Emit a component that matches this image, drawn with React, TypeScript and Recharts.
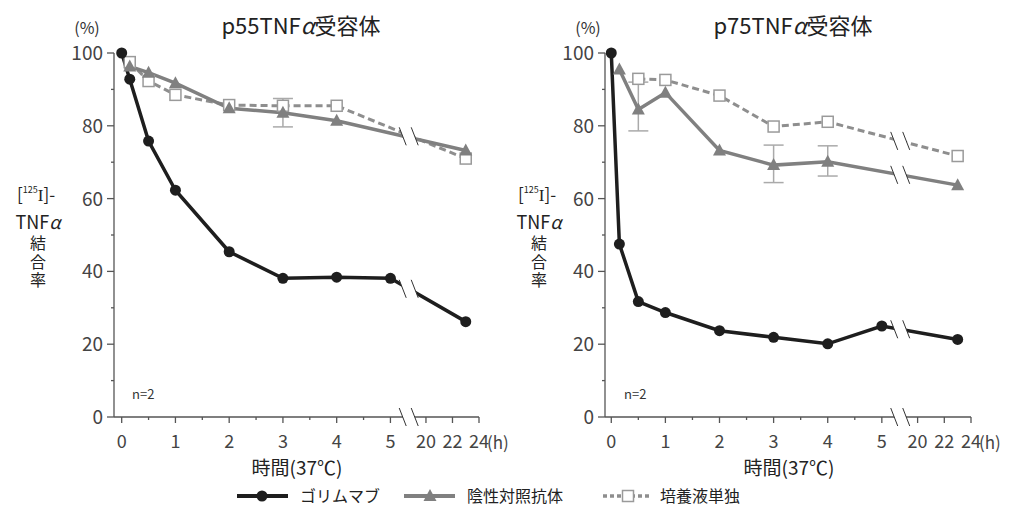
import React from 'react';
import { ComposedChart, Line, XAxis, YAxis, Scatter, ErrorBar } from 'recharts';

// sampling times (h)
const hours = [0, 0.15, 0.5, 1, 2, 3, 4, 5, 23];

// p55 receptor (%)
const p55Golimumab = [100, 92.8, 75.8, 62.3, 45.4, 38.1, 38.4, 38.1, 26.2];
const p55Control = [null, 96.3, 94.6, 91.7, 84.8, 83.6, 81.4, null, 73.2];
const p55ControlErr = [null, null, null, null, null, [3.9, 3.9], null, null, null];
const p55Medium = [null, 97.5, 92.3, 88.5, 85.7, 85.5, 85.5, null, 71];

// p75 receptor (%)
const p75Golimumab = [100, 47.5, 31.7, 28.7, 23.7, 21.9, 20.1, 25, 21.3];
const p75Control = [null, 95.5, 84.5, 89.1, 73.2, 69.2, 70.1, null, 63.7];
const p75ControlErr = [null, null, [5.9, 7.5], null, null, [4.8, 5.5], [3.9, 4.4], null, null];
const p75Medium = [null, null, 92.9, 92.6, 88.3, 79.8, 81.1, null, 71.7];

const earlyTicks = [0, 0.5, 1, 1.5, 2, 2.5, 3, 3.5, 4, 4.5, 5];
const lateTicks = [20, 22, 24];
const yTicks = [0, 10, 20, 30, 40, 50, 60, 70, 80, 90, 100];

const FONT = "'Noto Sans CJK JP', 'Noto Sans', sans-serif";
const BLACK = '#1e1e1e';
const GRAY = '#808080';
const DASH_GRAY = '#8e8e8e';
const AXIS = '#555';

// broken time axis: 0-5 h linear, then 20-24 h compressed
const LATE_START = 5.661;
const LATE_STEP = 0.2467;
const BREAK_AT = 5.34;
const toAxis = (h: number) => (h <= 5 ? h : LATE_START + (h - 20) * LATE_STEP);
const xTicks = [...earlyTicks, ...lateTicks].map(toAxis);
const xLabel = (v: number) => {
  const i = xTicks.findIndex((t) => Math.abs(t - v) < 1e-6);
  return i >= 0 ? [...earlyTicks, ...lateTicks][i] : v;
};

const buildRows = (values: any[], errs?: any[]) =>
  hours
    .map((h, i) => ({ x: toAxis(h), y: values[i], err: errs ? errs[i] : null }))
    .filter((r) => r.y != null);

// y of a series where it crosses the axis break
const yAtBreak = (values: any[]) => {
  const rows = buildRows(values);
  for (let i = 0; i < rows.length - 1; i++) {
    const a = rows[i];
    const b = rows[i + 1];
    if (a.x <= BREAK_AT && b.x >= BREAK_AT) {
      return a.y + ((b.y - a.y) * (BREAK_AT - a.x)) / (b.x - a.x);
    }
  }
  return null;
};

const breakRows = (series: any[][]) => {
  const ys: number[] = [];
  series.forEach((s) => {
    const y = yAtBreak(s);
    if (y == null) return;
    const near = ys.findIndex((v) => Math.abs(v - y) < 2);
    if (near >= 0) ys[near] = (ys[near] + y) / 2;
    else ys.push(y);
  });
  return [0, ...ys].map((y) => ({ x: BREAK_AT, y }));
};

const BreakMark = (props: any) => {
  const { cx, cy } = props;
  return (
    <g>
      <polygon
        points={`${cx - 9.5},${cy - 9} ${cx + 2.5},${cy - 9} ${cx + 9.5},${cy + 9} ${cx - 2.5},${cy + 9}`}
        fill="#fff"
      />
      <line x1={cx - 9.5} y1={cy - 9} x2={cx - 2.5} y2={cy + 9} stroke="#333" strokeWidth={1} />
      <line x1={cx + 2.5} y1={cy - 9} x2={cx + 9.5} y2={cy + 9} stroke="#333" strokeWidth={1} />
    </g>
  );
};

const CircleDot = (p: any) => <circle key={`c-${p.index}`} cx={p.cx} cy={p.cy} r={5.5} fill={BLACK} />;
const TriDot = (p: any) => (
  <polygon
    key={`t-${p.index}`}
    points={`${p.cx},${p.cy - 7} ${p.cx - 6.5},${p.cy + 5} ${p.cx + 6.5},${p.cy + 5}`}
    fill={GRAY}
  />
);
const SquareDot = (p: any) => (
  <rect key={`s-${p.index}`} x={p.cx - 5.5} y={p.cy - 5.5} width={11} height={11} fill="#fff" stroke="#9a9a9a" strokeWidth={1.5} />
);

const XTick = (props: any) => {
  const { x, y, payload } = props;
  const h = xLabel(payload.value);
  const major = Number.isInteger(h);
  return (
    <g>
      <line x1={x} y1={y} x2={x} y2={y + (major ? 6 : 3)} stroke={AXIS} strokeWidth={1.3} />
      {major && (
        <text x={x} y={y + 31} textAnchor="middle" fontSize={18} fill="#444" fontFamily={FONT}>
          {h}
        </text>
      )}
    </g>
  );
};

const YTick = (props: any) => {
  const { x, y, payload } = props;
  const major = payload.value % 20 === 0;
  return (
    <g>
      <line x1={x} y1={y} x2={x - (major ? 7 : 3)} y2={y} stroke={AXIS} strokeWidth={1.3} />
      {major && (
        <text x={x - 11} y={y + 7} textAnchor="end" fontSize={19} fill="#444" fontFamily={FONT}>
          {payload.value}
        </text>
      )}
    </g>
  );
};

interface PanelProps {
  golimumab: any[];
  control: any[];
  controlErr: any[];
  medium: any[];
  xMin: number;
  margin: { top: number; right: number; bottom: number; left: number };
}

function Panel({ golimumab, control, controlErr, medium, xMin, margin }: PanelProps) {
  return (
    <ComposedChart width={505} height={519} margin={margin}>
      <XAxis
        type="number"
        dataKey="x"
        domain={[xMin, toAxis(24)]}
        ticks={xTicks}
        interval={0}
        allowDataOverflow
        tick={<XTick />}
        tickSize={0}
        tickMargin={0}
        axisLine={{ stroke: AXIS, strokeWidth: 1.3 }}
        height={60}
      />
      <YAxis
        type="number"
        dataKey="y"
        domain={[0, 100]}
        ticks={yTicks}
        interval={0}
        tick={<YTick />}
        tickSize={0}
        tickMargin={0}
        axisLine={{ stroke: AXIS, strokeWidth: 1.3 }}
        width={60}
      />
      <Line
        data={buildRows(medium)}
        dataKey="y"
        stroke={DASH_GRAY}
        strokeWidth={3}
        strokeDasharray="7 4"
        dot={SquareDot}
        isAnimationActive={false}
      />
      <Line
        data={buildRows(control, controlErr)}
        dataKey="y"
        stroke={GRAY}
        strokeWidth={3.5}
        dot={TriDot}
        isAnimationActive={false}
      >
        <ErrorBar dataKey="err" direction="y" width={10} stroke="#aaa" strokeWidth={1.5} />
      </Line>
      <Line
        data={buildRows(golimumab)}
        dataKey="y"
        stroke={BLACK}
        strokeWidth={3.5}
        dot={CircleDot}
        isAnimationActive={false}
      />
      <Scatter
        data={breakRows([golimumab, control, medium])}
        dataKey="y"
        shape={<BreakMark />}
        isAnimationActive={false}
      />
    </ComposedChart>
  );
}

// dx: horizontal shift of the panel, lx: shift of the y-axis caption
function PanelText({ dx, lx, title }: { dx: number; lx: number; title: string }) {
  return (
    <g fontFamily={FONT}>
      <text x={dx + 301} y={34} textAnchor="middle" fontSize={22} fill="#222">
        {title}
        <tspan fontStyle="italic">α</tspan>受容体
      </text>
      <text x={lx + 87} y={34} textAnchor="middle" fontSize={16} fill="#333">
        (%)
      </text>
      <text x={lx + 17} y={201} fontSize={17} fill="#222">
        [<tspan fontSize={9} dy={-8}>125</tspan>
        <tspan dy={8} fontFamily="'Liberation Serif', serif">I</tspan>]-
      </text>
      <text x={lx + 38} y={229} textAnchor="middle" fontSize={18} fill="#222">
        TNF<tspan fontStyle="italic">α</tspan>
      </text>
      {/* vertical caption */}
      <text
        x={lx + 38}
        y={235}
        fontSize={16}
        fill="#222"
        letterSpacing={2.5}
        style={{ writingMode: 'vertical-rl' }}
      >
        結合率
      </text>
      <text x={dx + 132} y={399} fontSize={13} fill="#333">
        n=2
      </text>
      <text x={dx + 297} y={475} textAnchor="middle" fontSize={19} fill="#222">
        時間(37℃)
      </text>
    </g>
  );
}

export default function App() {
  return (
    <div style={{ position: 'absolute', left: 0, top: 0, width: 1010, height: 519, background: '#fff' }}>
      <div style={{ position: 'absolute', left: 0, top: 0 }}>
        <Panel
          golimumab={p55Golimumab}
          control={p55Control}
          controlErr={p55ControlErr}
          medium={p55Medium}
          xMin={-0.143}
          margin={{ top: 53, right: 26, bottom: 42, left: 54 }}
        />
      </div>
      <div style={{ position: 'absolute', left: 505, top: 0 }}>
        <Panel
          golimumab={p75Golimumab}
          control={p75Control}
          controlErr={p75ControlErr}
          medium={p75Medium}
          xMin={-0.116}
          margin={{ top: 53, right: 39, bottom: 42, left: 40 }}
        />
      </div>
      <svg width={1010} height={519} style={{ position: 'absolute', left: 0, top: 0, pointerEvents: 'none' }}>
        <PanelText dx={0} lx={0} title="p55TNF" />
        <PanelText dx={492} lx={501} title="p75TNF" />
        <g fontFamily={FONT}>
          <text x={487} y={449} fontSize={17} fill="#444">(h)</text>
          <text x={979} y={449} fontSize={17} fill="#444">(h)</text>
          {/* legend */}
          <line x1={237} y1={496} x2={288} y2={496} stroke={BLACK} strokeWidth={4} />
          <circle cx={262} cy={496} r={5.5} fill={BLACK} />
          <text x={300} y={502} fontSize={16} fill="#222">ゴリムマブ</text>
          <line x1={404} y1={496} x2={455} y2={496} stroke={GRAY} strokeWidth={4} />
          <polygon points="430,489 423.5,501 436.5,501" fill={GRAY} />
          <text x={467} y={502} fontSize={16} fill="#222">陰性対照抗体</text>
          <line x1={603} y1={496} x2={652} y2={496} stroke={DASH_GRAY} strokeWidth={3.5} strokeDasharray="4 3" />
          <rect x={622.5} y={490.5} width={11} height={11} fill="#fff" stroke="#9a9a9a" strokeWidth={1.5} />
          <text x={660} y={502} fontSize={16} fill="#222">培養液単独</text>
        </g>
      </svg>
    </div>
  );
}
